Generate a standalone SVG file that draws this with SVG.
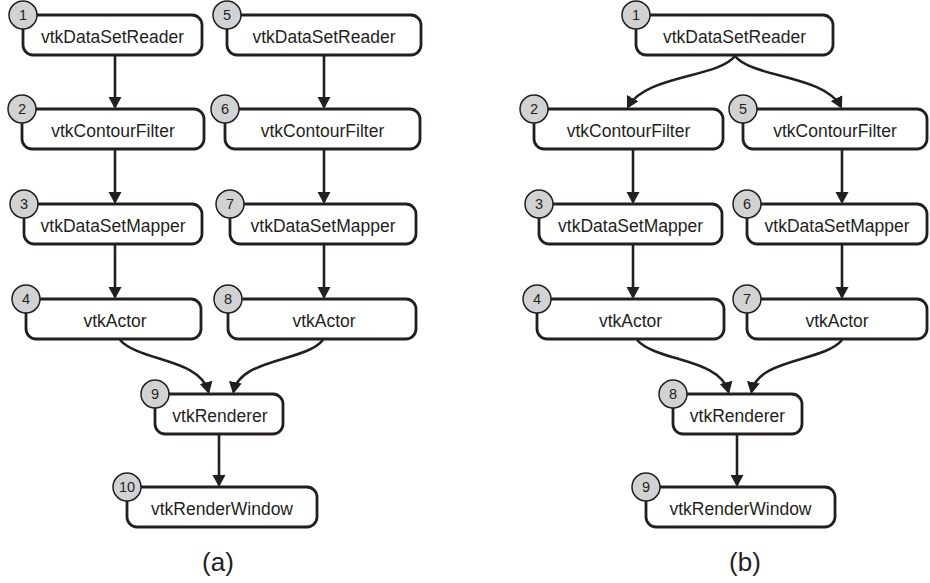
<svg xmlns="http://www.w3.org/2000/svg" width="930" height="583" viewBox="0 0 930 583">
<defs>
<style>
.box{fill:#fff;stroke:#231f20;stroke-width:2.8}
.num{fill:#d1d2d4;stroke:#231f20;stroke-width:1.5}
.lbl{font-family:"Liberation Sans",Arial,sans-serif;font-size:17.5px;fill:#231f20;text-anchor:middle}
.nt{font-family:"Liberation Sans",Arial,sans-serif;font-size:14.5px;fill:#231f20;text-anchor:middle}
.cap{font-family:"Liberation Sans",Arial,sans-serif;font-size:26px;fill:#231f20;text-anchor:middle}
.edge{fill:none;stroke:#231f20;stroke-width:2.6;marker-end:url(#ah)}
</style>
<marker id="ah" markerUnits="userSpaceOnUse" markerWidth="14" markerHeight="14" refX="10" refY="6.5" orient="auto">
<path d="M0,0 L12,6.5 L0,13 z" fill="#231f20"/>
</marker>
</defs>
<rect width="930" height="583" fill="#fff"/>

<g id="a1"><rect class="box" x="23" y="15" width="179" height="40" rx="10"/><text class="lbl" x="112.5" y="42.5">vtkDataSetReader</text><circle class="num" cx="23" cy="15" r="14"/><text class="nt" x="23" y="20">1</text></g>
<g id="a2"><rect class="box" x="22" y="109" width="182" height="40" rx="10"/><text class="lbl" x="113" y="136.5">vtkContourFilter</text><circle class="num" cx="22" cy="109" r="14"/><text class="nt" x="22" y="114">2</text></g>
<g id="a3"><rect class="box" x="24" y="204" width="178" height="40" rx="10"/><text class="lbl" x="113" y="231.5">vtkDataSetMapper</text><circle class="num" cx="24" cy="204" r="14"/><text class="nt" x="24" y="209">3</text></g>
<g id="a4"><rect class="box" x="26" y="299" width="175" height="40" rx="10"/><text class="lbl" x="115" y="326.5">vtkActor</text><circle class="num" cx="26" cy="299" r="14"/><text class="nt" x="26" y="304">4</text></g>
<g id="a5"><rect class="box" x="227" y="15" width="194" height="40" rx="10"/><text class="lbl" x="324" y="42.5">vtkDataSetReader</text><circle class="num" cx="227" cy="15" r="14"/><text class="nt" x="227" y="20">5</text></g>
<g id="a6"><rect class="box" x="225" y="109" width="195" height="40" rx="10"/><text class="lbl" x="322.5" y="136.5">vtkContourFilter</text><circle class="num" cx="225" cy="109" r="14"/><text class="nt" x="225" y="114">6</text></g>
<g id="a7"><rect class="box" x="230" y="204" width="186" height="40" rx="10"/><text class="lbl" x="323" y="231.5">vtkDataSetMapper</text><circle class="num" cx="230" cy="204" r="14"/><text class="nt" x="230" y="209">7</text></g>
<g id="a8"><rect class="box" x="228" y="299" width="188" height="40" rx="10"/><text class="lbl" x="324" y="326.5">vtkActor</text><circle class="num" cx="228" cy="299" r="14"/><text class="nt" x="228" y="304">8</text></g>
<g id="a9"><rect class="box" x="155" y="394" width="128" height="40" rx="10"/><text class="lbl" x="220" y="421.5">vtkRenderer</text><circle class="num" cx="155" cy="394" r="14"/><text class="nt" x="155" y="399">9</text></g>
<g id="a10"><rect class="box" x="127" y="487" width="190" height="40" rx="10"/><text class="lbl" x="222" y="514.5">vtkRenderWindow</text><circle class="num" cx="127" cy="487" r="14"/><text class="nt" x="127" y="492">10</text></g>

<g id="b1"><rect class="box" x="636" y="15" width="197" height="40" rx="10"/><text class="lbl" x="734.5" y="42.5">vtkDataSetReader</text><circle class="num" cx="636" cy="15" r="14"/><text class="nt" x="636" y="20">1</text></g>
<g id="b2"><rect class="box" x="534" y="109" width="189" height="40" rx="10"/><text class="lbl" x="628.5" y="136.5">vtkContourFilter</text><circle class="num" cx="534" cy="109" r="14"/><text class="nt" x="534" y="114">2</text></g>
<g id="b3"><rect class="box" x="539" y="204" width="183" height="40" rx="10"/><text class="lbl" x="630.5" y="231.5">vtkDataSetMapper</text><circle class="num" cx="539" cy="204" r="14"/><text class="nt" x="539" y="209">3</text></g>
<g id="b4"><rect class="box" x="537" y="299" width="187" height="40" rx="10"/><text class="lbl" x="630.5" y="326.5">vtkActor</text><circle class="num" cx="537" cy="299" r="14"/><text class="nt" x="537" y="304">4</text></g>
<g id="b5"><rect class="box" x="743" y="109" width="184" height="40" rx="10"/><text class="lbl" x="835" y="136.5">vtkContourFilter</text><circle class="num" cx="743" cy="109" r="14"/><text class="nt" x="743" y="114">5</text></g>
<g id="b6"><rect class="box" x="747" y="204" width="180" height="40" rx="10"/><text class="lbl" x="837" y="231.5">vtkDataSetMapper</text><circle class="num" cx="747" cy="204" r="14"/><text class="nt" x="747" y="209">6</text></g>
<g id="b7"><rect class="box" x="747" y="299" width="180" height="40" rx="10"/><text class="lbl" x="837" y="326.5">vtkActor</text><circle class="num" cx="747" cy="299" r="14"/><text class="nt" x="747" y="304">7</text></g>
<g id="b8"><rect class="box" x="673" y="394" width="129" height="40" rx="10"/><text class="lbl" x="737.5" y="421.5">vtkRenderer</text><circle class="num" cx="673" cy="394" r="14"/><text class="nt" x="673" y="399">8</text></g>
<g id="b9"><rect class="box" x="646" y="487" width="189" height="40" rx="10"/><text class="lbl" x="740.5" y="514.5">vtkRenderWindow</text><circle class="num" cx="646" cy="487" r="14"/><text class="nt" x="646" y="492">9</text></g>

<g id="connectors">
<path class="edge" d="M115,56 L115,107"/>
<path class="edge" d="M115,150 L115,202"/>
<path class="edge" d="M115,245 L115,297"/>
<path class="edge" d="M324,56 L324,107"/>
<path class="edge" d="M324,150 L324,202"/>
<path class="edge" d="M324,245 L324,297"/>
<path class="edge" d="M120,340 C140,362 200,358 208.5,392"/>
<path class="edge" d="M323,340 C305,362 240,358 233.5,392"/>
<path class="edge" d="M219,435 L219,485"/>
<path class="edge" d="M735,56 C718,78 645,75 628,107"/>
<path class="edge" d="M735,56 C752,78 825,75 841,107"/>
<path class="edge" d="M633,150 L633,202"/>
<path class="edge" d="M633,245 L633,297"/>
<path class="edge" d="M842,150 L842,202"/>
<path class="edge" d="M842,245 L842,297"/>
<path class="edge" d="M637,340 C657,362 720,358 728.5,392"/>
<path class="edge" d="M842,340 C824,362 758,358 751.5,392"/>
<path class="edge" d="M737,435 L737,485"/>
</g>

<text class="cap" x="218" y="571">(a)</text>
<text class="cap" x="745" y="571">(b)</text>
</svg>
